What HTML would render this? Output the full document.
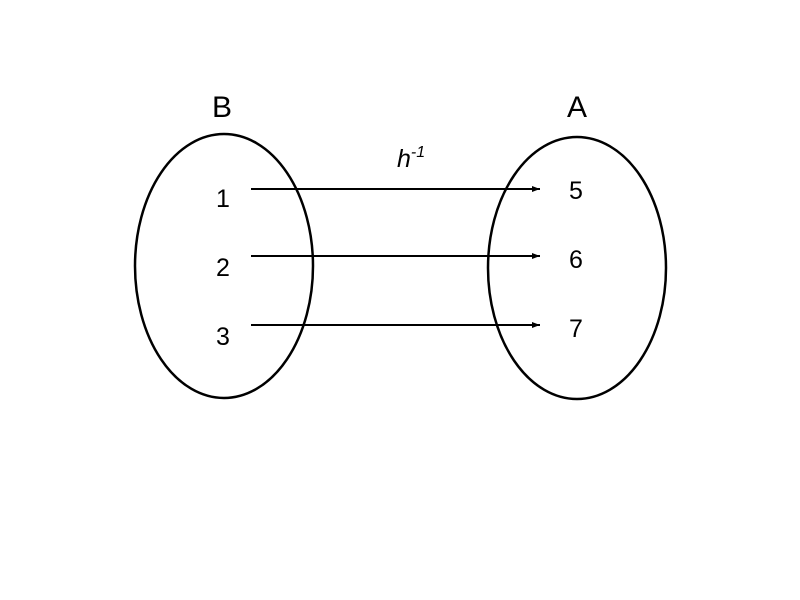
<!DOCTYPE html>
<html><head><style>body{margin:0;background:#fff}svg{display:block}</style></head><body>
<svg width="800" height="600" xmlns="http://www.w3.org/2000/svg" font-family="Liberation Sans, sans-serif">
<defs><marker id="a" markerWidth="8" markerHeight="6" refX="8" refY="3" orient="auto" markerUnits="userSpaceOnUse"><path d="M0,0 L8,3 L0,6 Z" fill="#000"/></marker></defs>
<ellipse cx="224" cy="266" rx="89" ry="132" fill="none" stroke="#000" stroke-width="2.5"/>
<ellipse cx="577" cy="268" rx="89" ry="131" fill="none" stroke="#000" stroke-width="2.5"/>
<g stroke="#000" stroke-width="2">
<line x1="251" y1="189" x2="540" y2="189" marker-end="url(#a)"/>
<line x1="251" y1="256" x2="540" y2="256" marker-end="url(#a)"/>
<line x1="251" y1="325" x2="540" y2="325" marker-end="url(#a)"/>
</g>
<g font-size="30" text-anchor="middle"><text x="222" y="117">B</text><text x="577" y="117">A</text></g>
<g font-size="25" text-anchor="middle">
<text x="223" y="207">1</text><text x="223" y="276">2</text><text x="223" y="345">3</text>
<text x="576" y="199">5</text><text x="576" y="268">6</text><text x="576" y="337">7</text>
</g>
<text x="397" y="167" font-size="25" font-style="italic">h<tspan font-size="16" dy="-10">-1</tspan></text>
</svg>
</body></html>
